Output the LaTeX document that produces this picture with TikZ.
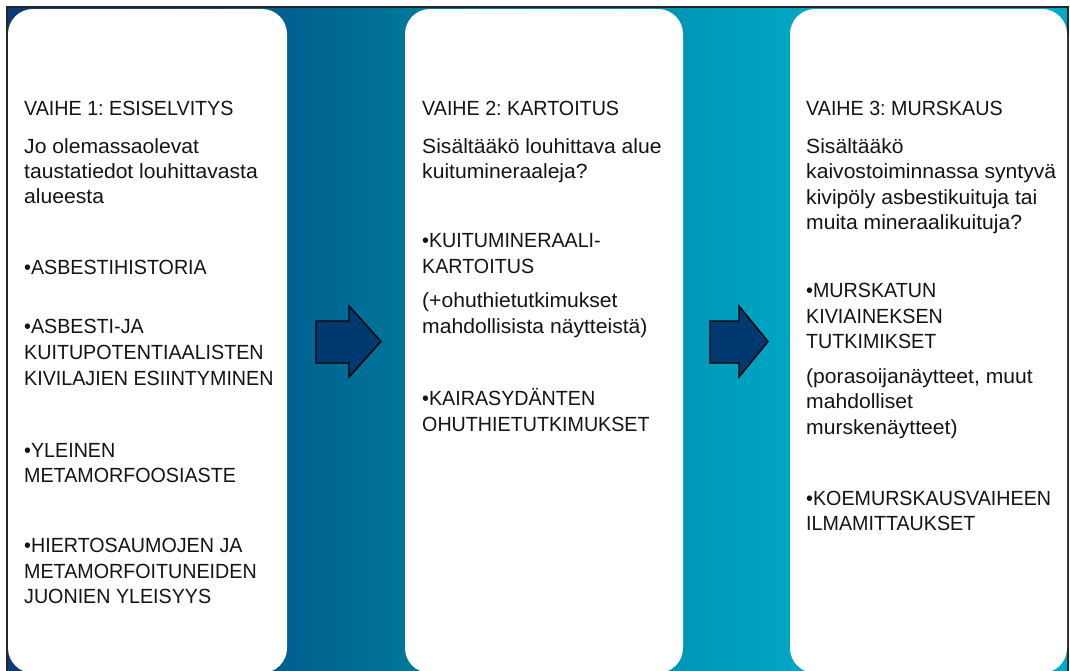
\documentclass[tikz,border=0pt]{standalone}
\usepackage{fontspec}
\setmainfont{Liberation Sans}
\newfontfamily\capsfont[FakeStretch=0.96]{Liberation Sans}
\newfontfamily\lowfont[FakeStretch=1.03]{Liberation Sans}
\frenchspacing
\definecolor{g0}{RGB}{10,58,120}
\definecolor{g1}{RGB}{0,96,143}
\definecolor{g2}{RGB}{0,118,154}
\definecolor{g3}{RGB}{0,151,183}
\definecolor{g4}{RGB}{0,166,194}
\definecolor{g5}{RGB}{0,170,198}
\definecolor{arrowc}{RGB}{0,56,112}
\definecolor{txtc}{RGB}{20,20,20}
\begin{document}
\begin{tikzpicture}[x=1pt,y=-1pt,
  panel/.style={fill=white, rounded corners=25pt},
  blockarrow/.style={fill=arrowc, draw=black, line width=1.4pt, line join=miter},
  txt/.style={anchor=base west, inner sep=0pt, text=txtc, font=\capsfont\fontsize{20.5}{25}\selectfont},
  ltxt/.style={txt, font=\lowfont\fontsize{20.5}{25}\selectfont}]
\useasboundingbox (0,0) rectangle (1070,670);
\clip (0,0) rectangle (1070,670);
\fill[white] (0,0) rectangle (1070,670);
% background gradient
\shade[left color=g0, right color=g1] (7,7) rectangle (287.5,672);
\shade[left color=g1, right color=g2] (287,7) rectangle (405.5,672);
\shade[left color=g2, right color=g3] (405,7) rectangle (683.5,672);
\shade[left color=g3, right color=g4] (683,7) rectangle (790.5,672);
\shade[left color=g4, right color=g5] (790,7) rectangle (1068,672);
\draw[black!85, line width=1.3pt] (7,672) -- (7,7) -- (1068,7) -- (1068,672);
% panels
\fill[panel] (8,9) rectangle (287,673);
\fill[panel] (405,9) rectangle (683,673);
\fill[panel] (790,9) rectangle (1067,673);
% arrows
\draw[blockarrow] (316,321) -- (349,321) -- (349,306) -- (381,341.5) -- (349,377) -- (349,363) -- (316,363) -- cycle;
\draw[blockarrow] (710,321) -- (739,321) -- (739,306) -- (768,341.5) -- (739,377) -- (739,363) -- (710,363) -- cycle;
% panel 1
\node[txt] (a1) at (24,115) {VAIHE 1: ESISELVITYS};
\node[ltxt] (a2) at (24,153) {Jo olemassaolevat};
\node[ltxt] (a3) at (24,178) {taustatiedot louhittavasta};
\node[ltxt] (a4) at (24,203) {alueesta};
\node[txt] (a5) at (24,274) {•ASBESTIHISTORIA};
\node[txt] (a6) at (24,333) {•ASBESTI-JA};
\node[txt] (a7) at (24,359) {KUITUPOTENTIAALISTEN};
\node[txt] (a8) at (24,385) {KIVILAJIEN ESIINTYMINEN};
\node[txt] (a9) at (24,457) {•YLEINEN};
\node[txt] (a10) at (24,482) {METAMORFOOSIASTE};
\node[txt] (a11) at (24,552) {•HIERTOSAUMOJEN JA};
\node[txt] (a12) at (24,578) {METAMORFOITUNEIDEN};
\node[txt] (a13) at (24,603) {JUONIEN YLEISYYS};
% panel 2
\node[txt] (b1) at (422,115) {VAIHE 2: KARTOITUS};
\node[ltxt] (b2) at (422,153) {Sisältääkö louhittava alue};
\node[ltxt] (b3) at (422,178) {kuitumineraaleja?};
\node[txt] (b4) at (422,247) {•KUITUMINERAALI-};
\node[txt] (b5) at (422,273) {KARTOITUS};
\node[ltxt] (b6) at (422,307) {(+ohuthietutkimukset};
\node[ltxt] (b7) at (422,333) {mahdollisista näytteistä)};
\node[txt] (b8) at (422,405) {•KAIRASYDÄNTEN};
\node[txt] (b9) at (422,431) {OHUTHIETUTKIMUKSET};
% panel 3
\node[txt] (c1) at (806,115) {VAIHE 3: MURSKAUS};
\node[ltxt] (c2) at (806,153) {Sisältääkö};
\node[ltxt] (c3) at (806,178) {kaivostoiminnassa syntyvä};
\node[ltxt] (c4) at (806,204) {kivipöly asbestikuituja tai};
\node[ltxt] (c5) at (806,229) {muita mineraalikuituja?};
\node[txt] (c6) at (806,297) {•MURSKATUN};
\node[txt] (c7) at (806,323) {KIVIAINEKSEN};
\node[txt] (c8) at (806,348) {TUTKIMIKSET};
\node[ltxt] (c9) at (806,383) {(porasoijanäytteet, muut};
\node[ltxt] (c10) at (806,408.5) {mahdolliset};
\node[ltxt] (c11) at (806,434) {murskenäytteet)};
\node[txt] (c12) at (806,505) {•KOEMURSKAUSVAIHEEN};
\node[txt] (c13) at (806,530) {ILMAMITTAUKSET};
\end{tikzpicture}
\end{document}
